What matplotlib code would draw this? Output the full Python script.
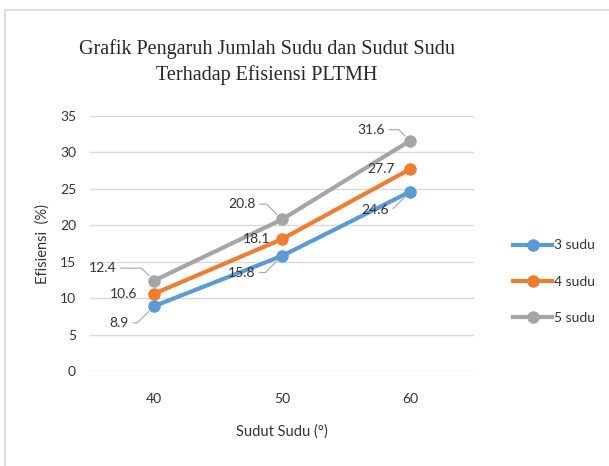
import matplotlib.pyplot as plt
from matplotlib.patches import Rectangle

sudut = ['40', '50', '60']
sudu_3 = [8.9, 15.8, 24.6]
sudu_4 = [10.6, 18.1, 27.7]
sudu_5 = [12.4, 20.8, 31.6]
series_names = ['3 sudu', '4 sudu', '5 sudu']
colors = ['#5B9BD5', '#ED7D31', '#A5A5A5']

# label offsets in points (dx, dy) and whether a leader line is drawn
offs = {
    0: [((-25, -12), True), ((-29, -12), True), ((-25, -13), True)],
    1: [((-22, 0), False), ((-18, 0), False), ((-21, 0), False)],
    2: [((-37, 9), True), ((-29, 11), True), ((-28, 8), True)],
}

plt.rcParams['font.family'] = ['Lato', 'DejaVu Sans']

fig = plt.figure(figsize=(6.09, 4.66), dpi=100)
fig.patches.append(Rectangle((5 / 609, -0.1), 1.2, 1 - 10 / 466 + 0.1,
                             transform=fig.transFigure, fill=False,
                             edgecolor='#D9D9D9', linewidth=1.2))
ax = fig.add_axes([90 / 609, 1 - 371 / 466, 384 / 609, 255 / 466])

x = range(len(sudut))
for i, (vals, name, c) in enumerate(zip([sudu_3, sudu_4, sudu_5], series_names, colors)):
    ax.plot(x, vals, color=c, linewidth=3, marker='o', markersize=8, label=name, zorder=3)
    for j, v in enumerate(vals):
        (dx, dy), lead = offs[i][j]
        ap = None
        if lead:
            angB = 45 if dy < 0 else 135
            ap = dict(arrowstyle='-', color='#A6A6A6', lw=0.8,
                      connectionstyle=f'angle,angleA=0,angleB={angB},rad=0',
                      shrinkA=1, shrinkB=5)
        ax.annotate(f'{v}', (j, v), xytext=(dx, dy), textcoords='offset points',
                    ha='center', va='center',
                    fontsize=10, color='#333333', arrowprops=ap, zorder=4)

ax.set_xlim(-0.5, 2.5)
ax.set_ylim(0, 35)
ax.set_yticks(range(0, 36, 5))
ax.set_xticks(list(x))
ax.set_xticklabels(sudut)
ax.grid(axis='y', color='#D9D9D9', linewidth=1)
ax.set_axisbelow(True)
for s in ax.spines.values():
    s.set_visible(False)
ax.tick_params(length=0, labelsize=10, labelcolor='#333333', pad=10)
ax.tick_params(axis='x', pad=16)

ax.set_xlabel('Sudut Sudu (°)', fontsize=10.5, color='#333333', labelpad=14)
ax.set_ylabel('Efisiensi  (%)', fontsize=10.5, color='#333333', labelpad=7)

fig.text(267 / 609, 1 - 62 / 466, 'Grafik Pengaruh Jumlah Sudu dan Sudut Sudu\nTerhadap Efisiensi PLTMH',
         ha='center', va='center', fontsize=14.5, family='Liberation Serif',
         color='#262626', linespacing=1.45)

ax.legend(loc='center left', bbox_to_anchor=(1.07, 0.35), frameon=False,
          fontsize=10, labelspacing=1.75, handlelength=2.8, handletextpad=0.1,
          labelcolor='#333333')

fig.savefig('out.png', dpi=100)
